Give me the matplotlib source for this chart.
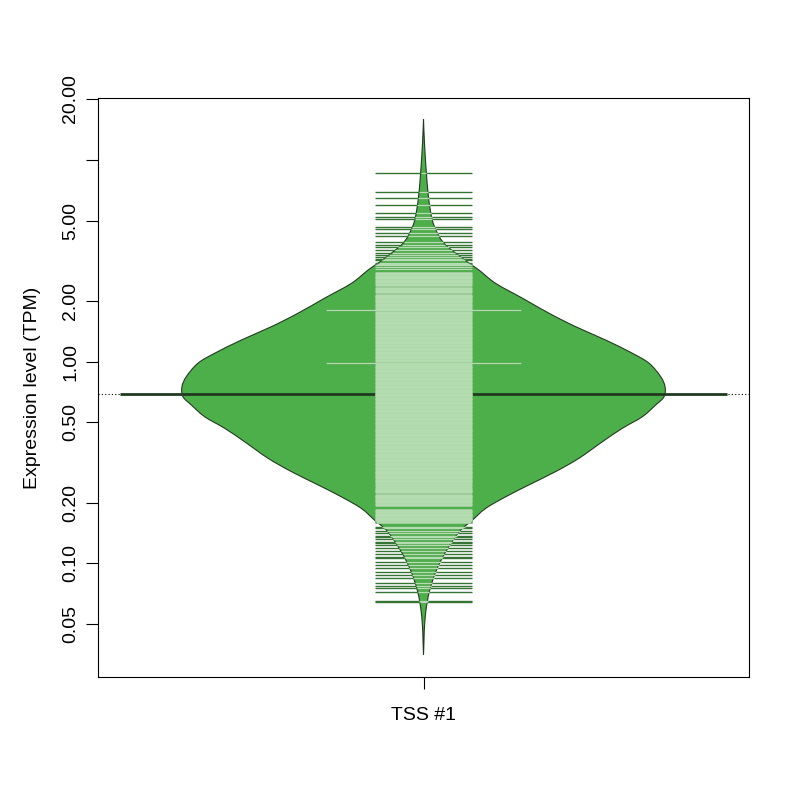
"""Beanplot of TSS #1 expression levels, redrawn with matplotlib."""

import numpy as np
import matplotlib

matplotlib.use("Agg")
import matplotlib.pyplot as plt
from matplotlib.collections import LineCollection
from matplotlib.patches import PathPatch
from matplotlib.path import Path

# bean outline: level (TPM) and half-width relative to the widest point
outline_tpm = [15.9, 12.1, 8.57, 6.82, 5.64, 4.85, 4.16, 3.78, 3.44, 3.07, 2.84, 2.44,
               2.06, 1.735, 1.489, 1.279, 1.099, 0.981, 0.842, 0.751, 0.670, 0.609,
               0.533, 0.467, 0.401, 0.332, 0.285, 0.245, 0.214, 0.1875, 0.164, 0.1436,
               0.1143, 0.0910, 0.0724, 0.0576, 0.0459, 0.0352]
outline_width = [0.0, 0.004, 0.012, 0.019, 0.028, 0.040, 0.065, 0.092, 0.134, 0.189,
                 0.230, 0.299, 0.410, 0.520, 0.630, 0.754, 0.865, 0.934, 0.982, 1.0,
                 0.996, 0.961, 0.906, 0.823, 0.741, 0.644, 0.547, 0.437, 0.341, 0.258,
                 0.203, 0.148, 0.092, 0.051, 0.024, 0.0095, 0.003, 0.0]

# individual observations (one bean line each)
upper_tail_tpm = [8.63, 6.95, 6.45, 5.97, 5.47, 5.22, 5.11, 4.66, 4.52, 4.32, 4.19, 3.91,
                  3.80, 3.68, 3.57, 3.46, 3.37, 3.29, 3.24, 3.19, 3.09, 3.05, 3.01, 2.95,
                  2.875]
dense_tpm = [2.75, 2.71, 2.67, 2.63, 2.59, 2.55, 2.51, 2.47, 2.43, 2.40, 2.32, 2.29, 2.25,
             2.22, 2.15, 2.12, 2.09, 2.06, 2.03, 2.00, 1.97, 1.94, 1.91, 1.88, 1.85, 1.83,
             1.80, 1.80, 1.77, 1.74, 1.72, 1.69, 1.66, 1.62, 1.60, 1.57, 1.55, 1.53, 1.50,
             1.48, 1.46, 1.43, 1.41, 1.39, 1.37, 1.35, 1.33, 1.31, 1.29, 1.27, 1.25, 1.23,
             1.21, 1.19, 1.17, 1.16, 1.14, 1.12, 1.10, 1.09, 1.07, 1.05, 1.04, 1.02, 1.01,
             0.98, 0.98, 0.97, 0.955, 0.94, 0.925, 0.91, 0.897, 0.883, 0.87, 0.857, 0.844,
             0.831, 0.818, 0.806, 0.794, 0.782, 0.770, 0.758, 0.747, 0.736, 0.725, 0.714,
             0.703, 0.692, 0.682, 0.672, 0.662, 0.652, 0.642, 0.632, 0.623, 0.613, 0.604,
             0.595, 0.586, 0.577, 0.568, 0.560, 0.551, 0.543, 0.535, 0.527, 0.519, 0.511,
             0.503, 0.495, 0.488, 0.481, 0.473, 0.466, 0.459, 0.452, 0.446, 0.439, 0.432,
             0.426, 0.420, 0.413, 0.407, 0.401, 0.395, 0.389, 0.383, 0.378, 0.372, 0.366,
             0.361, 0.356, 0.350, 0.345, 0.340, 0.335, 0.330, 0.325, 0.320, 0.315, 0.311,
             0.306, 0.302, 0.297, 0.293, 0.288, 0.284, 0.280, 0.276, 0.272, 0.268, 0.264,
             0.260, 0.256, 0.252, 0.248, 0.245, 0.238, 0.235, 0.231, 0.228, 0.225, 0.219,
             0.216, 0.213, 0.210, 0.207, 0.204, 0.201, 0.198, 0.195, 0.184, 0.181, 0.179,
             0.176, 0.173, 0.171, 0.168, 0.166, 0.1635, 0.161]
lower_tail_tpm = [0.1515, 0.1489, 0.1447, 0.1410, 0.1372, 0.1344, 0.1321, 0.1281, 0.1255,
                  0.1234, 0.1188, 0.1152, 0.1109, 0.1079, 0.1060, 0.1020, 0.0982, 0.0946,
                  0.0907, 0.0876, 0.0849, 0.0795, 0.0773, 0.0755, 0.0719, 0.0651, 0.0640]
bean_mean_tpm = 0.689

group_labels = ["TSS #1"]
y_ticks = [0.05, 0.1, 0.2, 0.5, 1, 2, 5, 10, 20]
y_tick_labels = ["0.05", "0.10", "0.20", "0.50", "1.00", "2.00", "5.00", "", "20.00"]
y_limits = (0.02735, 20.24)

BEAN_FILL = "#4DAF4A"
LINE_INSIDE = "#B3DDB0"
LINE_OUTSIDE = "#357434"
MEAN_COLOR = "#1F3A1E"
BORDER_COLOR = "#223A21"

BEAN_HALF = 0.371
LINE_HALF = 0.075
MEAN_HALF = 0.466


def smooth_closed_path(xs, ys):
    """Catmull-Rom curve through the outline points, built in (x, log10 y) space."""
    pts = np.column_stack([xs, np.log10(ys)])
    n = len(pts)
    verts = [pts[0]]
    codes = [Path.MOVETO]
    for i in range(n - 1):
        p0 = pts[max(i - 1, 0)]
        p1, p2 = pts[i], pts[i + 1]
        p3 = pts[min(i + 2, n - 1)]
        verts += [p1 + (p2 - p0) / 6.0, p2 - (p3 - p1) / 6.0, p2]
        codes += [Path.CURVE4] * 3
    verts = np.array(verts)
    verts[:, 1] = 10 ** verts[:, 1]
    verts = np.vstack([verts, verts[:1]])
    codes.append(Path.CLOSEPOLY)
    return Path(verts, codes)


plt.rcParams["font.family"] = ["Liberation Sans", "DejaVu Sans"]
plt.rcParams["font.size"] = 14

fig = plt.figure(figsize=(8, 8), dpi=100)
ax = fig.add_axes([98 / 800, 1 - 677 / 800, 651 / 800, 579 / 800])
ax.set_yscale("log")
ax.set_xlim(0.5, 1.5)
ax.set_ylim(*y_limits)

center = 1.0
widths = np.array(outline_width) * BEAN_HALF
levels = np.array(outline_tpm)
left_x = center - widths
right_x = (center + widths)[::-1]
bean_path = smooth_closed_path(np.concatenate([left_x, right_x[1:]]),
                               np.concatenate([levels, levels[::-1][1:]]))
ax.add_patch(PathPatch(bean_path, facecolor=BEAN_FILL, edgecolor=BORDER_COLOR,
                       linewidth=0.8, zorder=2))

# overall dotted line and the bean average line
ax.axhline(bean_mean_tpm, color="black", linestyle=(0, (1, 2)), linewidth=0.8, zorder=1)
ax.plot([center - MEAN_HALF, center + MEAN_HALF], [bean_mean_tpm] * 2, color=MEAN_COLOR,
        linewidth=2.0, solid_capstyle="butt", zorder=3)

# bean lines: dark where they stick out of the bean, light inside it
tail_values = set(upper_tail_tpm + lower_tail_tpm)
all_values = np.array(upper_tail_tpm + dense_tpm + lower_tail_tpm)
values, counts = np.unique(all_values, return_counts=True)
log_levels = np.log10(levels[::-1])
bean_at = np.interp(np.log10(values), log_levels, widths[::-1])
outer_segments, inner_segments, line_widths = [], [], []
for value, count, bean_half in zip(values, counts, bean_at):
    half = LINE_HALF * count
    outer_segments.append([(center - half, value), (center + half, value)])
    inner = min(half, bean_half)
    inner_segments.append([(center - inner, value), (center + inner, value)])
    thin = value in tail_values or count > 1
    line_widths.append(1.0 if thin else 1.9)
ax.add_collection(LineCollection(outer_segments, colors=LINE_OUTSIDE, linewidths=line_widths,
                                 capstyle="butt", zorder=4))
ax.add_collection(LineCollection(inner_segments, colors=LINE_INSIDE, linewidths=line_widths,
                                 capstyle="butt", zorder=5))

ax.set_yticks(y_ticks)
ax.set_yticklabels(y_tick_labels, rotation=90, va="center")
ax.yaxis.set_minor_locator(matplotlib.ticker.NullLocator())
ax.set_xticks([center])
ax.set_xticklabels(group_labels)
ax.tick_params(axis="both", direction="out", length=8.6, width=0.8, pad=5)
ax.tick_params(axis="x", pad=13)
for spine in ax.spines.values():
    spine.set_linewidth(0.8)

ax.set_ylabel("Expression level (TPM)", labelpad=15)

fig.savefig("out.png", dpi=100)
